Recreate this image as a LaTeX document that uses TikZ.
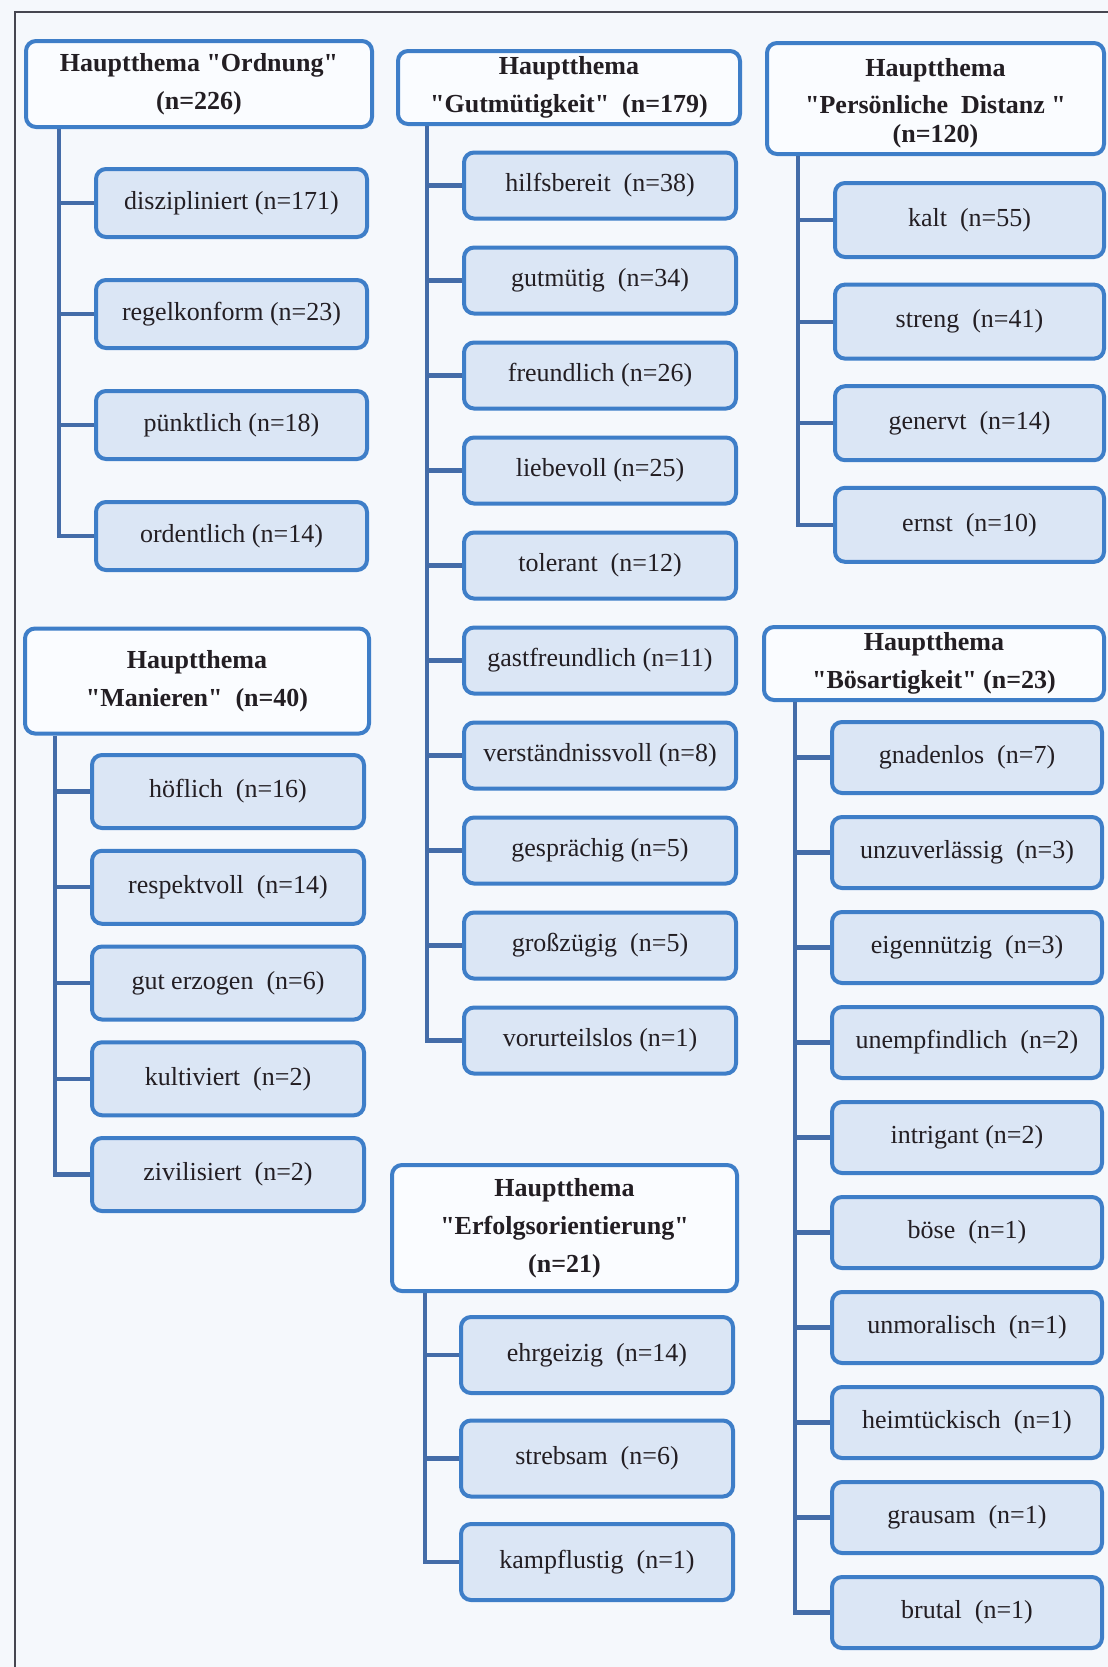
\documentclass[tikz,border=0pt]{standalone}
\usepackage{fontspec}
\newfontfamily\timesfont{Liberation Serif}
\definecolor{boxblue}{RGB}{62,126,200}
\definecolor{linkblue}{RGB}{68,108,168}
\definecolor{traitfill}{RGB}{219,230,245}
\definecolor{headfill}{RGB}{250,252,255}
\definecolor{pagebg}{RGB}{245,248,252}
\definecolor{framegray}{RGB}{70,70,80}
\definecolor{inkdark}{RGB}{35,30,35}
\tikzset{
  theme/.style={draw=boxblue, line width=2pt, rounded corners=5pt, fill=headfill,
    font=\timesfont\fontsize{13}{19}\selectfont\bfseries, text=inkdark, align=center, inner sep=0pt},
  trait/.style={draw=boxblue, line width=2pt, rounded corners=5pt, fill=traitfill,
    font=\timesfont\fontsize{13}{16}\selectfont, text=inkdark, inner sep=0pt},
  branch/.style={draw=linkblue, line width=2.1pt},
}
\begin{document}
\begin{tikzpicture}[x=0.5pt, y=-0.5pt]
\fill[pagebg] (0,0) rectangle (1108,1667);
\useasboundingbox (0,0) rectangle (1108,1667);
\draw[framegray, line width=1pt] (15,1667) -- (15,12) -- (1108,12);

% Ordnung
\node[theme, minimum width=173pt, minimum height=43pt] (ord) at (199,84) {Hauptthema "Ordnung"\\(n=226)};
\foreach \txt [count=\i from 0] in {diszipliniert (n=171), regelkonform (n=23), pünktlich (n=18), ordentlich (n=14)}
  \node[trait, minimum width=135.5pt, minimum height=34pt] (ord\i) at (231.5,203+111*\i) {\txt};
\draw[branch] ([xshift=-17.5pt]ord0.west |- ord.south) |- (ord3.west);
\foreach \i in {0,1,2} \draw[branch] (ord\i.west) -- ++(-17.5pt,0);

% Manieren
\node[theme, minimum width=172pt, minimum height=52.5pt] (man) at (197,681) {Hauptthema\\"Manieren"~ (n=40)};
\foreach \txt [count=\i from 0] in {höflich~ (n=16), respektvoll~ (n=14), gut erzogen~ (n=6), kultiviert~ (n=2), zivilisiert~ (n=2)}
  \node[trait, minimum width=136pt, minimum height=36.5pt] (man\i) at (228,791.5+95.75*\i) {\txt};
\draw[branch] ([xshift=-17.5pt]man0.west |- man.south) |- (man4.west);
\foreach \i in {0,...,3} \draw[branch] (man\i.west) -- ++(-17.5pt,0);

% Gutmuetigkeit
\node[theme, minimum width=171pt, minimum height=36.5pt] (gut) at (569,87.5) {Hauptthema\\"Gutmütigkeit"~ (n=179)};
\foreach \txt [count=\i from 0] in {hilfsbereit~ (n=38), gutmütig~ (n=34), freundlich (n=26), liebevoll (n=25), tolerant~ (n=12),
    gastfreundlich (n=11), verständnissvoll (n=8), gesprächig (n=5), großzügig~ (n=5), vorurteilslos (n=1)}
  \node[trait, minimum width=136pt, minimum height=33pt] (gut\i) at (600,185.5+95*\i) {\txt};
\draw[branch] ([xshift=-17.5pt]gut0.west |- gut.south) |- (gut9.west);
\foreach \i in {0,...,8} \draw[branch] (gut\i.west) -- ++(-17.5pt,0);

% Persoenliche Distanz
\node[theme, minimum width=168.5pt, minimum height=55.5pt] (dis) at (935.5,98.5)
  {\rule{0pt}{14pt}Hauptthema\\[-0.5pt]"Persönliche~ Distanz "\\[-4.5pt](n=120)};
\foreach \txt [count=\i from 0] in {kalt~ (n=55), streng~ (n=41), genervt~ (n=14), ernst~ (n=10)}
  \node[trait, minimum width=134.5pt, minimum height=37pt] (dis\i) at (969.5,220+101.6*\i) {\txt};
\draw[branch] ([xshift=-17.5pt]dis0.west |- dis.south) |- (dis3.west);
\foreach \i in {0,1,2} \draw[branch] (dis\i.west) -- ++(-17.5pt,0);

% Boesartigkeit
\node[theme, minimum width=170pt, minimum height=36.5pt] (bos) at (934,663.5) {Hauptthema\\"Bösartigkeit" (n=23)};
\foreach \txt [count=\i from 0] in {gnadenlos~ (n=7), unzuverlässig~ (n=3), eigennützig~ (n=3), unempfindlich~ (n=2), intrigant (n=2),
    böse~ (n=1), unmoralisch~ (n=1), heimtückisch~ (n=1), grausam~ (n=1), brutal~ (n=1)}
  \node[trait, minimum width=135pt, minimum height=35.5pt] (bos\i) at (967,757.5+95*\i) {\txt};
\draw[branch] ([xshift=-17.5pt]bos0.west |- bos.south) |- (bos9.west);
\foreach \i in {0,...,8} \draw[branch] (bos\i.west) -- ++(-17.5pt,0);

% Erfolgsorientierung
\node[theme, minimum width=172.5pt, minimum height=63pt] (erf) at (564.5,1228) {Hauptthema\\"Erfolgsorientierung"\\(n=21)};
\foreach \txt [count=\i from 0] in {ehrgeizig~ (n=14), strebsam~ (n=6), kampflustig~ (n=1)}
  \node[trait, minimum width=136pt, minimum height=38pt] (erf\i) at (597,1355+103.5*\i) {\txt};
\draw[branch] ([xshift=-17pt]erf0.west |- erf.south) |- (erf2.west);
\foreach \i in {0,1} \draw[branch] (erf\i.west) -- ++(-17pt,0);
\end{tikzpicture}
\end{document}
